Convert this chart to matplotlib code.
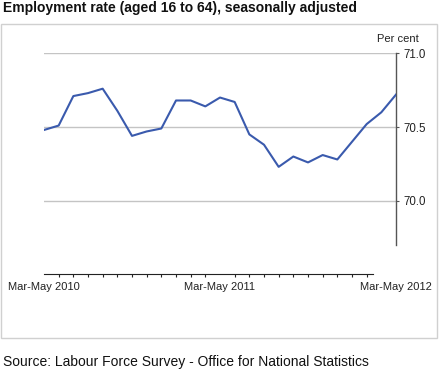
import matplotlib
matplotlib.use("Agg")
import matplotlib.pyplot as plt
from matplotlib.patches import Rectangle

plt.rcParams['font.family'] = ['Liberation Sans', 'DejaVu Sans']

# employment rate, rolling quarters Mar-May 2010 .. Mar-May 2012
rate = [70.48, 70.51, 70.71, 70.73, 70.76, 70.61, 70.44, 70.47, 70.49,
        70.68, 70.68, 70.64, 70.70, 70.67, 70.45, 70.38, 70.23, 70.30,
        70.26, 70.31, 70.28, 70.40, 70.52, 70.60, 70.72]
xlabels = ['Mar-May 2010', 'Mar-May 2011', 'Mar-May 2012']
xlabel_pos = [0, 12, 24]
yticks = [70.0, 70.5, 71.0]

W, H = 440, 372
fig = plt.figure(figsize=(W / 100, H / 100), dpi=100)

# outer light border
fig.patches.append(Rectangle((1 / W, 1 - 338 / H), 436 / W, 314 / H,
                             transform=fig.transFigure, fill=False,
                             edgecolor='#d0d0d0', linewidth=1))

ax = fig.add_axes([44 / W, 1 - 245 / H, 352 / W, (245 - 53.3) / H])
x = list(range(len(rate)))
ax.plot(x, rate, color='#3a5aad', linewidth=1.5, solid_joinstyle='round', zorder=3)

ax.set_xlim(0, 24)
ax.set_ylim(69.7, 71.0)

for v in yticks:
    ax.axhline(v, color='#c4c4c4', linewidth=1, zorder=1)

ax.spines['left'].set_visible(False)
ax.spines['top'].set_visible(False)
ax.spines['right'].set_color('#555555')
ax.spines['right'].set_linewidth(1)
ax.spines['bottom'].set_position(('outward', 21))
ax.spines['bottom'].set_bounds(0, 22.4)
ax.spines['bottom'].set_color('#222222')

ax.yaxis.tick_right()
ax.set_yticks(yticks)
ax.set_yticklabels(['%.1f' % v for v in yticks])
ax.tick_params(axis='y', direction='out', length=2.5, width=0.8,
               color='#555555', pad=3, labelsize=8.3, labelcolor='#222222')

ax.set_xticks(xlabel_pos)
ax.set_xticklabels(xlabels)
ax.set_xticks(range(23), minor=True)
ax.tick_params(axis='x', which='major', length=0, pad=6, labelsize=8,
               labelcolor='#222222')
ax.tick_params(axis='x', which='minor', length=2.5, width=0.8, color='#222222')

fig.text(419 / W, 1 - 39 / H, 'Per cent', ha='right', va='center',
         fontsize=8, color='#222222')
fig.text(3 / W, 1 - 8 / H, 'Employment rate (aged 16 to 64), seasonally adjusted',
         ha='left', va='center', fontsize=10, fontweight='bold', color='#111111')
fig.text(3 / W, 1 - 362 / H, 'Source: Labour Force Survey - Office for National Statistics',
         ha='left', va='center', fontsize=10, color='#111111')

fig.savefig('out.png', dpi=100)
